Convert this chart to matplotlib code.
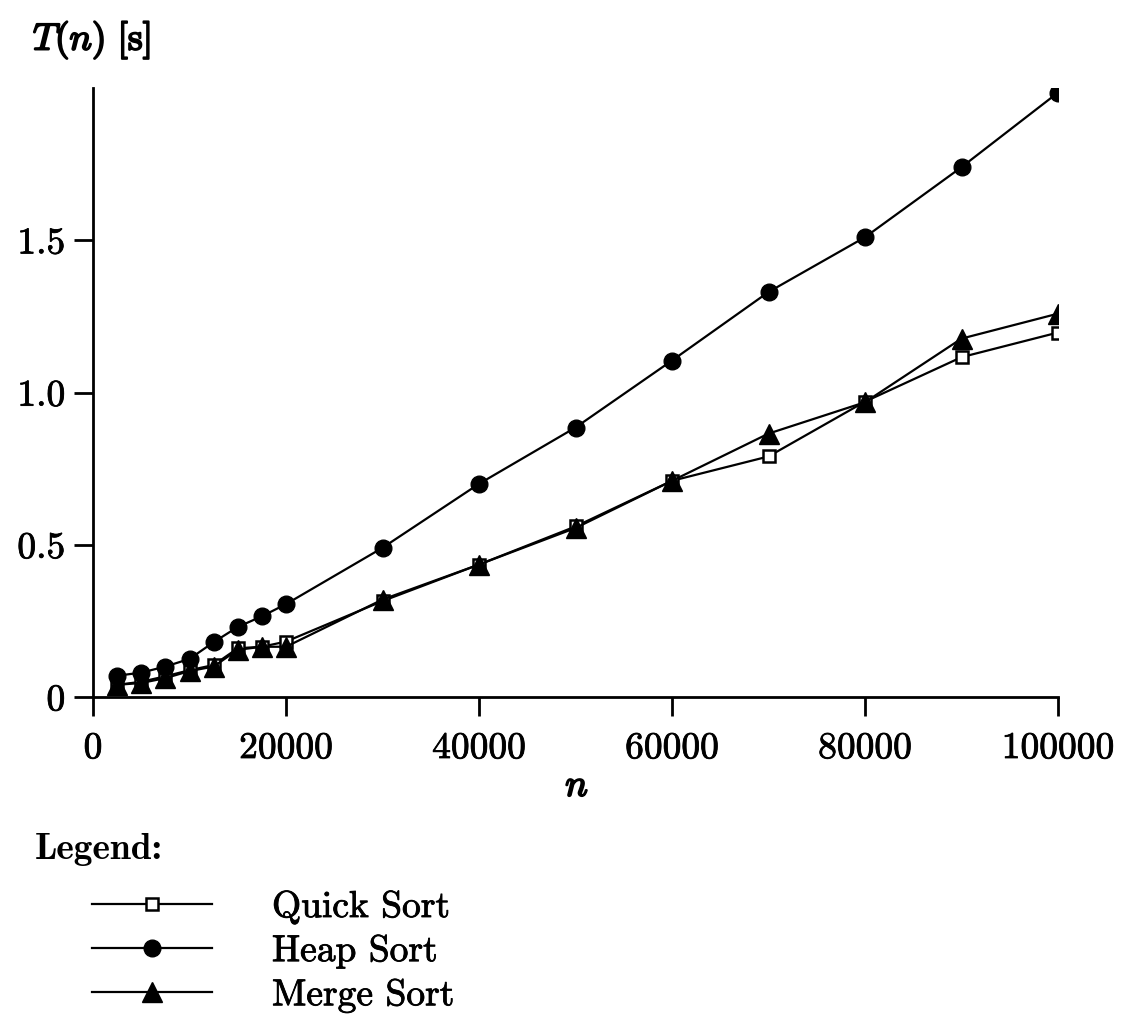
import matplotlib
matplotlib.use("Agg")
import matplotlib.pyplot as plt
import matplotlib.patheffects as pe

# Input sizes and measured running times (seconds)
n = [2500, 5000, 7500, 10000, 12500, 15000, 17500, 20000,
     30000, 40000, 50000, 60000, 70000, 80000, 90000, 100000]
quick_sort = [0.040, 0.050, 0.068, 0.088, 0.105, 0.160, 0.165, 0.182,
              0.315, 0.435, 0.560, 0.710, 0.790, 0.970, 1.116, 1.197]
heap_sort = [0.070, 0.080, 0.100, 0.125, 0.180, 0.230, 0.265, 0.305,
             0.490, 0.700, 0.885, 1.105, 1.330, 1.510, 1.740, 1.985]
merge_sort = [0.040, 0.046, 0.062, 0.085, 0.100, 0.155, 0.165, 0.165,
              0.320, 0.435, 0.555, 0.710, 0.865, 0.968, 1.177, 1.259]

x_ticks = [0, 20000, 40000, 60000, 80000, 100000]
x_tick_labels = ["0", "20000", "40000", "60000", "80000", "100000"]
y_ticks = [0, 0.5, 1.0, 1.5]
y_tick_labels = ["0", "0.5", "1.0", "1.5"]
series_names = ["Quick Sort", "Heap Sort", "Merge Sort"]

plt.rcParams["mathtext.fontset"] = "cm"
plt.rcParams["axes.formatter.use_mathtext"] = True
FS = 27

W, H = 1122, 1015
fig = plt.figure(figsize=(W / 100, H / 100), dpi=100)
ax = fig.add_axes([93 / W, 1 - 697 / H, (1058 - 93) / W, (697 - 88) / H])

style = dict(color="black", lw=1.6)
ax.plot(n, quick_sort, marker="s", ms=8, mfc="white", mec="black", mew=1.8,
        label=series_names[0], **style)
ax.plot(n, heap_sort, marker="o", ms=12, mfc="black", mec="black",
        label=series_names[1], **style)
ax.plot(n, merge_sort, marker="^", ms=15, mfc="black", mec="black",
        label=series_names[2], **style)

ax.set_xlim(0, 100000)
ax.set_ylim(0, 2.0)
for side in ("top", "right"):
    ax.spines[side].set_visible(False)
for side in ("left", "bottom"):
    ax.spines[side].set_linewidth(2.0)
ax.spines["bottom"].set_bounds(0, 100000)

ax.set_xticks(x_ticks)
ax.set_xticklabels(x_tick_labels)
ax.set_yticks(y_ticks)
ax.set_yticklabels(y_tick_labels)
ax.tick_params(axis="both", direction="out", length=14, width=2.0,
               labelsize=FS)
ax.tick_params(axis="x", pad=11)
ax.tick_params(axis="y", pad=6)
for lab in ax.get_xticklabels() + ax.get_yticklabels():
    lab.set_fontfamily("cmr10")
    lab.set_path_effects([pe.withStroke(linewidth=0.6, foreground="black")])

bold = [pe.withStroke(linewidth=1.4, foreground="black")]
fig.text(33 / W, 1 - 40 / H, r"$T(n)\ [\mathrm{s}]$", fontsize=FS,
         ha="left", va="center", path_effects=bold)
fig.text(577 / W, 1 - 786 / H, r"$n$", fontsize=FS, ha="center",
         va="center", path_effects=bold)

fig.text(35 / W, 1 - 849 / H, "Legend:", fontsize=FS, family="cmb10",
         ha="left", va="center")
handles, labels = ax.get_legend_handles_labels()
leg = fig.legend(handles, labels, loc="upper left",
                 bbox_to_anchor=(92 / W, 1 - 890 / H), frameon=False,
                 prop={"family": "cmr10", "size": FS},
                 handlelength=3.2, handletextpad=1.6, labelspacing=0.27,
                 borderpad=0, borderaxespad=0)
for t in leg.get_texts():
    t.set_path_effects([pe.withStroke(linewidth=0.6, foreground="black")])

fig.savefig("out.png", dpi=100, facecolor="white")
